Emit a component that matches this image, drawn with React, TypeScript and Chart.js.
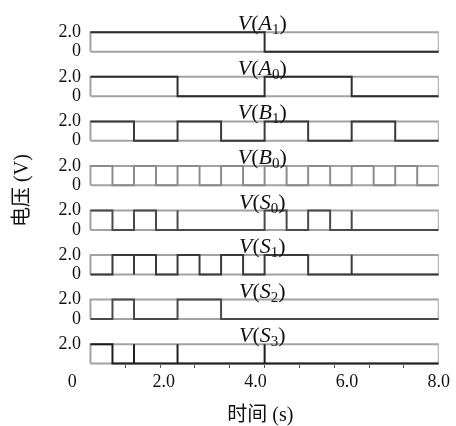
import React, { useEffect, useRef } from 'react';
import { Chart, registerables } from 'chart.js';

Chart.register(...registerables);

// Segment boundary times (s)
const boundaries = [0.4, 0.88, 1.35, 1.83, 2.3, 2.78, 3.25, 3.73, 4.2, 4.68, 5.15, 5.63, 6.1, 6.58, 7.05, 7.53, 8.0];

// Signal names (top to bottom)
const signalNames = ['A', 'A', 'B', 'B', 'S', 'S', 'S', 'S'];
const signalSubs = ['1', '0', '1', '0', '0', '1', '2', '3'];

// Voltage level in each segment (V)
const vA1 = [2, 2, 2, 2, 2, 2, 2, 2, 0, 0, 0, 0, 0, 0, 0, 0];
const vA0 = [2, 2, 2, 2, 0, 0, 0, 0, 2, 2, 2, 2, 0, 0, 0, 0];
const vB1 = [2, 2, 0, 0, 2, 2, 0, 0, 2, 2, 0, 0, 2, 2, 0, 0];
const vB0 = [2, 0, 2, 0, 2, 0, 2, 0, 2, 0, 2, 0, 2, 0, 2, 0];
const vS0 = [2, 0, 2, 0, 0, 0, 0, 0, 2, 0, 2, 0, 0, 0, 0, 0];
const vS1 = [0, 2, 2, 0, 2, 0, 2, 0, 2, 2, 0, 0, 0, 0, 0, 0];
const vS2 = [0, 2, 0, 0, 2, 2, 0, 0, 0, 0, 0, 0, 0, 0, 0, 0];
const vS3 = [2, 0, 0, 0, 0, 0, 0, 0, 0, 0, 0, 0, 0, 0, 0, 0];

// Boundaries (index into boundaries) where a glitch spike appears
const gA1: number[] = [];
const gA0: number[] = [];
const gB1: number[] = [];
const gB0: number[] = [];
const gS0 = [4, 12];
const gS1 = [2, 12];
const gS2: number[] = [];
const gS3 = [2, 4, 8];

const signalLevels = [vA1, vA0, vB1, vB0, vS0, vS1, vS2, vS3];
const signalGlitches = [gA1, gA0, gB1, gB0, gS0, gS1, gS2, gS3];

const xTickValues = [0, 2, 4, 6, 8];
const xTickLabels = ['0', '2.0', '4.0', '6.0', '8.0'];
const yTickLabels = ['0', '2.0'];
const minorTickValues = [1, 2, 3, 4, 5, 6, 7, 8, 9];

// layout constants
const HIGH = 2;
const PANEL_STEP = 4.6;
const TITLE_X = 4.15;
const X_MIN = 0.215;
const X_MAX = 8;
const SERIF = '"Liberation Serif", "Times New Roman", serif';
const CJK = '"Liberation Serif", "Noto Sans CJK SC", serif';
const signalColors = ['#2e2e2e', '#2e2e2e', '#3a3a3a', '#8c8c8c', '#4a4a4a', '#3a3a3a', '#4a4a4a', '#1e1e1e'];

const nPanels = signalNames.length;
const panelBase = (k: number) => (nPanels - 1 - k) * PANEL_STEP;

// minor tick scale: 0 at first boundary, 10 at last boundary
const tFirst = boundaries[0];
const tLast = boundaries[boundaries.length - 1];
const toMinor = (t: number) => ((t - tFirst) / (tLast - tFirst)) * 10;

function stepPoints(levels: number[], glitches: number[], base: number) {
  const pts: { x: number; y: number }[] = [];
  for (let i = 0; i < levels.length; i++) {
    const lv = levels[i];
    if (glitches.includes(i)) {
      const other = lv > 0 ? 0 : HIGH;
      pts.push({ x: boundaries[i], y: base + other });
    }
    pts.push({ x: boundaries[i], y: base + lv });
    pts.push({ x: boundaries[i + 1], y: base + lv });
  }
  return pts;
}

function boxPoints(base: number) {
  return [
    { x: tFirst, y: base },
    { x: tLast, y: base },
    { x: tLast, y: base + HIGH },
    { x: tFirst, y: base + HIGH },
    { x: tFirst, y: base },
  ];
}

const yTickItems: { value: number; label: string }[] = [];
for (let k = 0; k < nPanels; k++) {
  const b = panelBase(k);
  yTickItems.push({ value: b + HIGH, label: yTickLabels[1] });
  if (k < nPanels - 1) yTickItems.push({ value: b, label: yTickLabels[0] });
}

const panelTitlePlugin = {
  id: 'panelTitles',
  afterDraw(chart: any) {
    const ctx = chart.ctx as CanvasRenderingContext2D;
    const xs = chart.scales.x;
    const ys = chart.scales.y;
    const cx = xs.getPixelForValue(TITLE_X);
    ctx.save();
    ctx.fillStyle = '#111';
    ctx.textBaseline = 'alphabetic';
    ctx.textAlign = 'left';
    for (let k = 0; k < nPanels; k++) {
      const y = ys.getPixelForValue(panelBase(k) + HIGH) - 2;
      const parts = [
        { t: 'V', f: `italic 22px ${SERIF}`, dy: 0 },
        { t: '(', f: `22px ${SERIF}`, dy: 0 },
        { t: signalNames[k], f: `italic 22px ${SERIF}`, dy: 0 },
        { t: signalSubs[k], f: `15px ${SERIF}`, dy: 4 },
        { t: ')', f: `22px ${SERIF}`, dy: 0 },
      ];
      let total = 0;
      const widths = parts.map((p) => {
        ctx.font = p.f;
        const w = ctx.measureText(p.t).width;
        total += w;
        return w;
      });
      let x = cx - total / 2;
      parts.forEach((p, i) => {
        ctx.font = p.f;
        ctx.fillText(p.t, x, y + p.dy);
        x += widths[i];
      });
    }
    ctx.restore();
  },
};

export default function App() {
  const canvasRef = useRef<HTMLCanvasElement | null>(null);

  useEffect(() => {
    if (!canvasRef.current) return;
    const datasets: any[] = [];
    for (let k = 0; k < nPanels; k++) {
      const base = panelBase(k);
      datasets.push({
        label: `${signalNames[k]}${signalSubs[k]}`,
        data: stepPoints(signalLevels[k], signalGlitches[k], base),
        borderColor: signalColors[k],
        borderWidth: 2,
        pointRadius: 0,
        tension: 0,
        fill: false,
        order: 0,
      });
      datasets.push({
        label: `box${k}`,
        data: boxPoints(base),
        borderColor: '#a2a2a2',
        borderWidth: 2,
        pointRadius: 0,
        tension: 0,
        fill: false,
        order: 1,
      });
    }

    const chart = new Chart(canvasRef.current, {
      type: 'line',
      data: { datasets },
      options: {
        animation: false,
        responsive: false,
        devicePixelRatio: 1,
        layout: { padding: { top: 16, left: 0, right: 0, bottom: 0 } },
        plugins: { legend: { display: false }, tooltip: { enabled: false } },
        scales: {
          x: {
            type: 'linear',
            position: 'bottom',
            weight: 1,
            min: X_MIN,
            max: X_MAX,
            afterBuildTicks: (s: any) => {
              s.ticks = xTickValues.map((v) => ({ value: v }));
            },
            ticks: {
              callback: (v: any) => xTickLabels[xTickValues.indexOf(Number(v))] ?? '',
              font: { family: SERIF, size: 18 },
              color: '#111',
              padding: 6,
              maxRotation: 0,
              autoSkip: false,
            },
            grid: { display: false, drawTicks: false },
            border: { display: false },
            title: {
              display: true,
              text: '时间 (s)',
              font: { family: CJK, size: 20, lineHeight: 1 },
              color: '#111',
              padding: { top: 0, bottom: 0 },
            },
            afterFit: (s: any) => {
              s.height = 61;
            },
          },
          x2: {
            type: 'linear',
            position: 'bottom',
            weight: 0,
            min: toMinor(X_MIN),
            max: toMinor(X_MAX),
            afterBuildTicks: (s: any) => {
              s.ticks = minorTickValues.map((v) => ({ value: v }));
            },
            ticks: { display: false },
            grid: { display: true, drawOnChartArea: false, drawTicks: true, tickLength: 3, color: '#555', lineWidth: 1 },
            border: { display: false },
            afterFit: (s: any) => {
              s.height = 0;
            },
          },
          y: {
            type: 'linear',
            min: -0.15,
            max: 35.88,
            afterBuildTicks: (s: any) => {
              s.ticks = yTickItems.map((t) => ({ value: t.value }));
            },
            ticks: {
              callback: (v: any) => {
                const it = yTickItems.find((t) => Math.abs(t.value - Number(v)) < 1e-6);
                return it ? it.label : '';
              },
              font: { family: SERIF, size: 18 },
              color: '#111',
              padding: 1,
              autoSkip: false,
            },
            grid: { display: false, drawTicks: false },
            border: { display: false },
            title: {
              display: true,
              text: '电压 (V)',
              font: { family: CJK, size: 20, lineHeight: 1 },
              color: '#111',
              padding: { top: 13, bottom: 0 },
            },
            afterFit: (s: any) => {
              s.width = 82;
            },
          },
        },
      } as any,
      plugins: [panelTitlePlugin],
    });
    return () => chart.destroy();
  }, []);

  return (
    <div style={{ position: 'fixed', left: 0, top: 0, width: 456, height: 426, background: '#fff' }}>
      <canvas ref={canvasRef} width={456} height={426} style={{ display: 'block' }} />
    </div>
  );
}
